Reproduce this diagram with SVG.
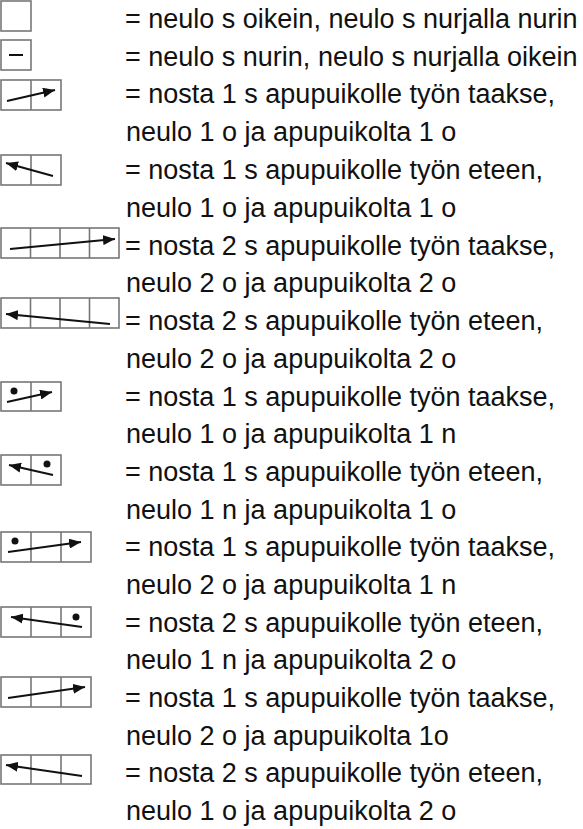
<svg xmlns="http://www.w3.org/2000/svg" width="583" height="829" viewBox="0 0 583 829">
<defs>
<style>
.box{fill:#fff;stroke:#777;stroke-width:1.6}
.div{stroke:#777;stroke-width:1.6}
.arr{stroke:#111;stroke-width:2;fill:none;marker-end:url(#ah)}
.dot{fill:#111}
text{font-family:"Liberation Sans",Arial,sans-serif;font-size:27px;fill:#111}
</style>
<marker id="ah" markerUnits="userSpaceOnUse" markerWidth="14" markerHeight="10" refX="12" refY="5" orient="auto" viewBox="0 0 14 10">
<path d="M0,0 L12,5 L0,10 Z" fill="#111"/>
</marker>
</defs>
<rect width="583" height="829" fill="#fff"/>
<g id="sym1"><rect class="box" x="1" y="1" width="30" height="30"/></g>
<g id="sym2"><rect class="box" x="1" y="40" width="30" height="30"/><line x1="9" y1="55" x2="23" y2="55" stroke="#111" stroke-width="2"/></g>
<g id="sym3"><rect class="box" x="1" y="80" width="60" height="30"/><line class="div" x1="31" y1="80" x2="31" y2="110"/></g>
<g id="sym4"><rect class="box" x="1" y="155" width="60" height="30"/><line class="div" x1="31" y1="155" x2="31" y2="185"/></g>
<g id="sym5"><rect class="box" x="1" y="228" width="118" height="30"/><line class="div" x1="30.5" y1="228" x2="30.5" y2="258"/><line class="div" x1="60" y1="228" x2="60" y2="258"/><line class="div" x1="89.5" y1="228" x2="89.5" y2="258"/></g>
<g id="sym6"><rect class="box" x="1" y="298" width="118" height="30"/><line class="div" x1="30.5" y1="298" x2="30.5" y2="328"/><line class="div" x1="60" y1="298" x2="60" y2="328"/><line class="div" x1="89.5" y1="298" x2="89.5" y2="328"/></g>
<g id="sym7"><rect class="box" x="1" y="382" width="60" height="29"/><line class="div" x1="31" y1="382" x2="31" y2="411"/><circle class="dot" cx="14" cy="391" r="3.5"/></g>
<g id="sym8"><rect class="box" x="1" y="455" width="60" height="30"/><line class="div" x1="31" y1="455" x2="31" y2="485"/><circle class="dot" cx="47" cy="464" r="3.5"/></g>
<g id="sym9"><rect class="box" x="1" y="532" width="90" height="30"/><line class="div" x1="31" y1="532" x2="31" y2="562"/><line class="div" x1="61" y1="532" x2="61" y2="562"/><circle class="dot" cx="15" cy="541" r="3.5"/></g>
<g id="sym10"><rect class="box" x="1" y="607" width="90" height="30"/><line class="div" x1="31" y1="607" x2="31" y2="637"/><line class="div" x1="61" y1="607" x2="61" y2="637"/><circle class="dot" cx="76" cy="617" r="3.5"/></g>
<g id="sym11"><rect class="box" x="1" y="677" width="90" height="30"/><line class="div" x1="31" y1="677" x2="31" y2="707"/><line class="div" x1="61" y1="677" x2="61" y2="707"/></g>
<g id="sym12"><rect class="box" x="1" y="755" width="90" height="29"/><line class="div" x1="31" y1="755" x2="31" y2="784"/><line class="div" x1="61" y1="755" x2="61" y2="784"/></g>
<g id="connectors">
<line class="arr" x1="7" y1="101" x2="55" y2="90"/>
<line class="arr" x1="53" y1="176" x2="6" y2="163"/>
<line class="arr" x1="10" y1="249" x2="115" y2="239"/>
<line class="arr" x1="110" y1="324" x2="6" y2="314"/>
<line class="arr" x1="7" y1="402" x2="52" y2="392"/>
<line class="arr" x1="53" y1="475" x2="9" y2="465"/>
<line class="arr" x1="8" y1="552" x2="81" y2="542"/>
<line class="arr" x1="82" y1="627" x2="11" y2="617"/>
<line class="arr" x1="8" y1="698" x2="85" y2="687"/>
<line class="arr" x1="82" y1="776" x2="6" y2="765"/>
</g>
<g id="labels">
<text x="125" y="28">= neulo s oikein, neulo s nurjalla nurin</text>
<text x="125" y="66">= neulo s nurin, neulo s nurjalla oikein</text>
<text x="125" y="103">= nosta 1 s apupuikolle työn taakse,</text>
<text x="126" y="141">neulo 1 o ja apupuikolta 1 o</text>
<text x="125" y="179">= nosta 1 s apupuikolle työn eteen,</text>
<text x="126" y="216.5">neulo 1 o ja apupuikolta 1 o</text>
<text x="125" y="254.5">= nosta 2 s apupuikolle työn taakse,</text>
<text x="126" y="292">neulo 2 o ja apupuikolta 2 o</text>
<text x="125" y="330">= nosta 2 s apupuikolle työn eteen,</text>
<text x="126" y="367.5">neulo 2 o ja apupuikolta 2 o</text>
<text x="125" y="405.5">= nosta 1 s apupuikolle työn taakse,</text>
<text x="126" y="443">neulo 1 o ja apupuikolta 1 n</text>
<text x="125" y="481">= nosta 1 s apupuikolle työn eteen,</text>
<text x="126" y="518.5">neulo 1 n ja apupuikolta 1 o</text>
<text x="125" y="556">= nosta 1 s apupuikolle työn taakse,</text>
<text x="126" y="594">neulo 2 o ja apupuikolta 1 n</text>
<text x="125" y="631.5">= nosta 2 s apupuikolle työn eteen,</text>
<text x="126" y="669">neulo 1 n ja apupuikolta 2 o</text>
<text x="125" y="707">= nosta 1 s apupuikolle työn taakse,</text>
<text x="126" y="744.5">neulo 2 o ja apupuikolta 1o</text>
<text x="125" y="782">= nosta 2 s apupuikolle työn eteen,</text>
<text x="126" y="820">neulo 1 o ja apupuikolta 2 o</text>
</g>
</svg>
